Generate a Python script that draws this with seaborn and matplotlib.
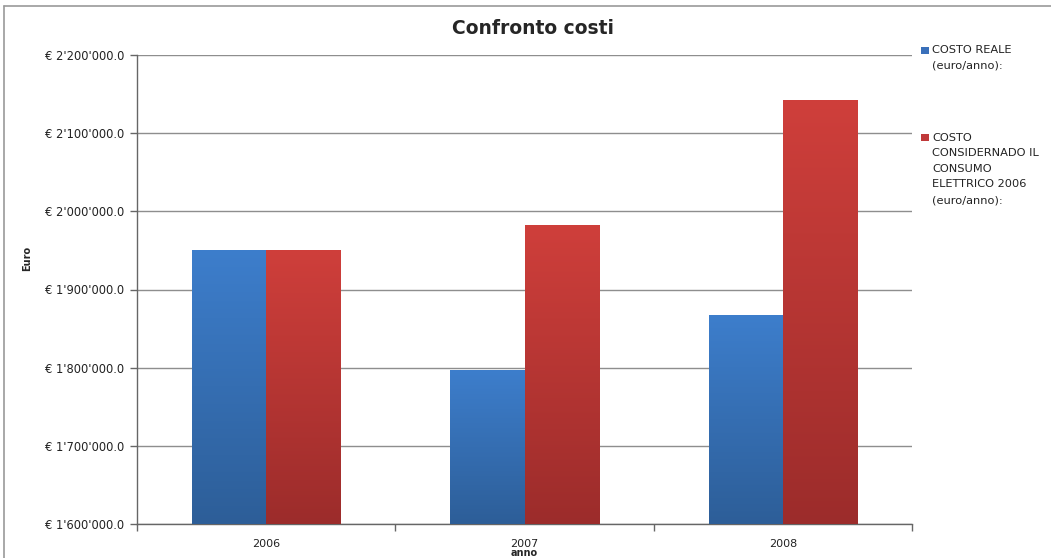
import textwrap
import numpy as np
import pandas as pd
import matplotlib
matplotlib.use("Agg")
import matplotlib.pyplot as plt
from matplotlib.colors import LinearSegmentedColormap
from matplotlib.patches import Rectangle
from matplotlib.ticker import FuncFormatter, MultipleLocator, FixedLocator
import seaborn as sns

# Data
years = ["2006", "2007", "2008"]
series = ["COSTO REALE (euro/anno):",
          "COSTO CONSIDERNADO IL CONSUMO ELETTRICO 2006 (euro/anno):"]
costo_reale = [1951000, 1797000, 1867000]
costo_consumo_2006 = [1951000, 1983000, 2142000]

# Gradient colors per series (top, bottom)
grad_colors = [("#3D7ECC", "#2D5E98"), ("#CF3F3B", "#9C2C2B")]
legend_colors = ["#3A70BA", "#C0393A"]

df = pd.DataFrame({
    "anno": years * 2,
    "serie": [series[0]] * 3 + [series[1]] * 3,
    "euro": costo_reale + costo_consumo_2006,
})

sns.set_theme(style="white")
plt.rcParams["font.family"] = ["DejaVu Sans"]

W, H = 1051, 558
fig = plt.figure(figsize=(W / 100, H / 100), dpi=100)
ax = fig.add_axes([137 / W, 1 - 524 / H, (912 - 137) / W, (524 - 55) / H])

sns.barplot(data=df, x="anno", y="euro", hue="serie", order=years,
            hue_order=series, palette=legend_colors, width=0.575, gap=0,
            legend=False, ax=ax, zorder=3)

ymin, ymax = 1_600_000, 2_200_000

# Vertical gradient fill inside each bar
grad = np.linspace(1, 0, 256).reshape(-1, 1)
for i, (patch, s) in enumerate(zip(ax.patches, [0] * 3 + [1] * 3)):
    top, bottom = grad_colors[s]
    cmap = LinearSegmentedColormap.from_list(f"g{i}", [bottom, top])
    x0, w = patch.get_x(), patch.get_width()
    y1 = patch.get_height()
    patch.set_facecolor("none")
    patch.set_edgecolor("none")
    img = ax.imshow(grad, cmap=cmap, aspect="auto", extent=[x0, x0 + w, ymin, y1],
                    zorder=3, interpolation="bicubic")
    img.set_clip_path(patch)
ax.set_xlim(-0.5, 2.5)
ax.set_ylim(ymin, ymax)

# Axes styling
ax.yaxis.set_major_locator(MultipleLocator(100_000))
ax.yaxis.set_major_formatter(FuncFormatter(
    lambda v, p: "€ " + f"{v:,.1f}".replace(",", "'")))
ax.grid(axis="y", color="#8E8E8E", linewidth=1.0, zorder=0)
ax.set_axisbelow(True)
for side in ("top", "right"):
    ax.spines[side].set_visible(False)
for side in ("left", "bottom"):
    ax.spines[side].set_color("#666666")
    ax.spines[side].set_linewidth(1.0)

ax.tick_params(axis="y", which="major", length=5, width=1, color="#666666",
               direction="out", labelsize=8.3, labelcolor="#222222", pad=4, left=True)
ax.xaxis.set_minor_locator(FixedLocator([-0.5, 0.5, 1.5, 2.5]))
ax.tick_params(axis="x", which="major", length=0, labelsize=8,
               labelcolor="#222222", pad=11)
ax.tick_params(axis="x", which="minor", length=5, width=1, color="#666666",
               direction="out", bottom=True)

ax.set_xlabel("anno", fontsize=7, fontweight="bold")
ax.xaxis.set_label_coords(0.5, -(553 - 524) / (524 - 55))
ax.xaxis.label.set_va("center")
ax.set_ylabel("Euro", fontsize=7, fontweight="bold")
ax.yaxis.set_label_coords(-(137 - 27) / (912 - 137), (524 - 258) / (524 - 55))
ax.yaxis.label.set_va("center")

fig.suptitle("Confronto costi", x=533 / W, y=1 - 28 / H, va="center",
             fontsize=13.5, fontweight="bold")

# Legend with markers aligned to the first text line
line_h = 15.5
entry_tops = [50, 138]
for name, color, y in zip(series, legend_colors, entry_tops):
    fig.patches.append(Rectangle((921 / W, 1 - (y + 3.5) / H),
                                 7.5 / W, 7 / H, transform=fig.transFigure,
                                 facecolor=color, edgecolor="none"))
    for k, line in enumerate(textwrap.wrap(name, 15)):
        fig.text(932 / W, 1 - (y + k * line_h) / H, line, fontsize=8.2,
                 color="#222222", va="center", ha="left")

# Chart area frame
fig.add_artist(plt.Line2D([4 / W, 4 / W], [0, 1 - 6 / H],
                          transform=fig.transFigure, color="#9A9A9A", lw=1.2))
fig.add_artist(plt.Line2D([4 / W, 1], [1 - 6 / H, 1 - 6 / H],
                          transform=fig.transFigure, color="#9A9A9A", lw=1.2))

fig.savefig("out.png", dpi=100, facecolor="white")
